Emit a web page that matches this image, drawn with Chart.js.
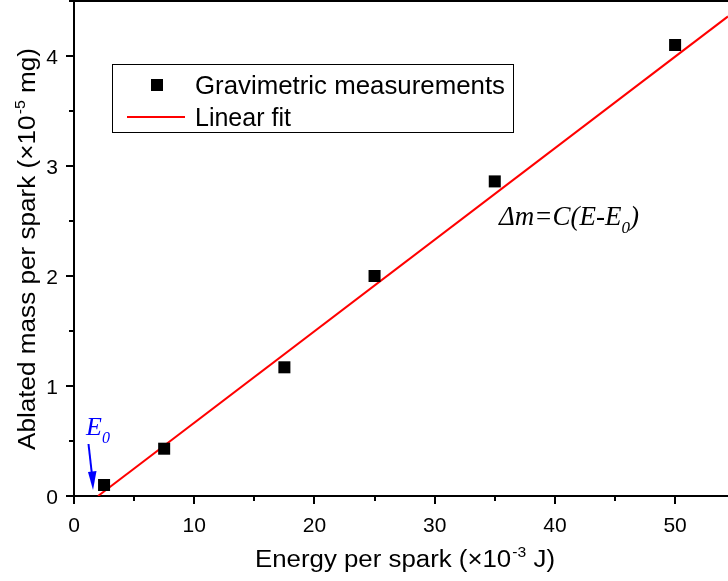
<!DOCTYPE html>
<html><head><meta charset="utf-8">
<script src="https://cdn.jsdelivr.net/npm/chart.js@4/dist/chart.umd.min.js"></script>
<style>html,body{margin:0;padding:0;background:#fff}#wrap{width:728px;height:581px;position:relative}</style>
</head><body><div id="wrap"><canvas id="c" width="728" height="581"></canvas></div>
<script>
const energy = [2.5, 7.5, 17.5, 25, 35, 50];
const mass = [0.10, 0.43, 1.17, 2.00, 2.86, 4.10];
const fitX = [2.0, 54.4];
const fitY = [0.0, 4.36];
const xTicks = [0, 10, 20, 30, 40, 50];
const yTicks = [0, 1, 2, 3, 4];
const seriesLabels = ['Gravimetric measurements', 'Linear fit'];
const xTitle = ['Energy per spark (\u00d710', '-3', ' J)'];
const yTitle = ['Ablated mass per spark (\u00d710', '-5', ' mg)'];

const FONT = '"Liberation Sans", Arial, sans-serif';
const TF = '"Liberation Serif", "Times New Roman", serif';

function drawSup(ctx, parts, cx, y, size, targetW) {
  const ss = Math.round(size * 0.6);
  ctx.font = size + 'px ' + FONT;
  const w0 = ctx.measureText(parts[0]).width;
  const w2 = ctx.measureText(parts[2]).width;
  ctx.font = ss + 'px ' + FONT;
  const w1 = ctx.measureText(parts[1]).width;
  const total = w0 + w1 + w2 + 1;
  const k = targetW / total;
  ctx.save();
  ctx.translate(cx - targetW / 2, y);
  ctx.scale(k, 1);
  ctx.textAlign = 'left'; ctx.textBaseline = 'alphabetic';
  ctx.font = size + 'px ' + FONT;
  ctx.fillText(parts[0], 0, 0);
  ctx.font = ss + 'px ' + FONT;
  ctx.fillText(parts[1], w0 + 1, -size * 0.45);
  ctx.font = size + 'px ' + FONT;
  ctx.fillText(parts[2], w0 + w1 + 1, 0);
  ctx.restore();
}

function fitText(ctx, text, x, y, targetW) {
  const w = ctx.measureText(text).width;
  ctx.save();
  ctx.translate(x, y);
  ctx.scale(targetW / w, 1);
  ctx.fillText(text, 0, 0);
  ctx.restore();
}

const deco = {
  id: 'deco',
  afterDraw(chart) {
    const ctx = chart.ctx, a = chart.chartArea;
    const xs = chart.scales.x, ys = chart.scales.y;
    ctx.save();
    ctx.strokeStyle = '#000'; ctx.lineWidth = 2;
    ctx.beginPath(); ctx.moveTo(a.left - 1, 1); ctx.lineTo(a.right, 1); ctx.stroke();
    for (let v = 0; v <= 54; v += 5) {
      const px = Math.round(xs.getPixelForValue(v));
      const len = (v % 10 === 0) ? 8 : 5;
      ctx.beginPath(); ctx.moveTo(px, a.bottom); ctx.lineTo(px, a.bottom + len); ctx.stroke();
    }
    for (let v = 0; v <= 4.5; v += 0.5) {
      const py = Math.round(ys.getPixelForValue(v));
      const len = (Math.abs(v - Math.round(v)) < 1e-6) ? 8 : 5;
      ctx.beginPath(); ctx.moveTo(a.left, py); ctx.lineTo(a.left - len, py); ctx.stroke();
    }
    ctx.fillStyle = '#000';
    ctx.font = '21px ' + FONT;
    ctx.textAlign = 'center'; ctx.textBaseline = 'alphabetic';
    xTicks.forEach(v => ctx.fillText(String(v), xs.getPixelForValue(v), 532));
    ctx.textAlign = 'right';
    yTicks.forEach(v => ctx.fillText(String(v), 58, ys.getPixelForValue(v) + 7.5));
    drawSup(ctx, xTitle, 405, 567, 23, 300);
    ctx.save();
    ctx.translate(35, 249); ctx.rotate(-Math.PI / 2);
    drawSup(ctx, yTitle, 0, 0, 23, 402);
    ctx.restore();
    // legend
    ctx.lineWidth = 1; ctx.strokeStyle = '#000';
    ctx.strokeRect(112.5, 64.5, 401, 68);
    ctx.fillStyle = '#000';
    ctx.fillRect(151, 79, 12, 12);
    ctx.strokeStyle = '#ff0000'; ctx.lineWidth = 2;
    ctx.beginPath(); ctx.moveTo(127, 117); ctx.lineTo(185, 117); ctx.stroke();
    ctx.fillStyle = '#000';
    ctx.font = '25px ' + FONT; ctx.textAlign = 'left'; ctx.textBaseline = 'alphabetic';
    fitText(ctx, seriesLabels[0], 195, 94, 310);
    ctx.font = '25px ' + FONT;
    ctx.fillText(seriesLabels[1], 195, 126);
    // equation
    ctx.font = 'italic 27px ' + TF;
    let ex = 499, ey = 225;
    const s1 = '\u0394m=C(E-E';
    ctx.fillText(s1, ex, ey);
    ex += ctx.measureText(s1).width;
    ctx.font = 'italic 17px ' + TF;
    ctx.fillText('0', ex, ey + 8);
    ex += ctx.measureText('0').width;
    ctx.font = 'italic 27px ' + TF;
    ctx.fillText(')', ex, ey);
    // E0 annotation
    ctx.fillStyle = '#0000ff';
    ctx.font = 'italic 26px ' + TF;
    ctx.fillText('E', 86, 435);
    const wE = ctx.measureText('E').width;
    ctx.font = 'italic 16px ' + TF;
    ctx.fillText('0', 86 + wE, 443);
    ctx.strokeStyle = '#0000ff'; ctx.lineWidth = 2;
    ctx.beginPath(); ctx.moveTo(88.5, 444); ctx.lineTo(92, 475); ctx.stroke();
    ctx.beginPath(); ctx.moveTo(93, 490); ctx.lineTo(88, 472); ctx.lineTo(96.5, 471); ctx.closePath();
    ctx.fillStyle = '#0000ff'; ctx.fill();
    ctx.restore();
  }
};

new Chart(document.getElementById('c'), {
  type: 'scatter',
  data: {
    datasets: [
      { label: seriesLabels[1], data: fitX.map((x, i) => ({x, y: fitY[i]})), showLine: true,
        borderColor: '#ff0000', borderWidth: 2, pointRadius: 0, order: 2 },
      { label: seriesLabels[0], data: energy.map((x, i) => ({x, y: mass[i]})),
        pointStyle: 'rect', pointRadius: 8.5, backgroundColor: '#000', borderColor: '#000', borderWidth: 0, order: 1 }
    ]
  },
  options: {
    responsive: false, animation: false, events: [],
    layout: { autoPadding: false, padding: { top: 1, right: 0, left: 0, bottom: 0 } },
    plugins: { legend: { display: false }, tooltip: { enabled: false } },
    scales: {
      x: {
        type: 'linear', min: 0, max: 54.4,
        afterFit(s) { s.height = 85; },
        border: { display: true, color: '#000', width: 2 },
        grid: { display: false, drawTicks: false },
        ticks: { display: false }
      },
      y: {
        type: 'linear', min: 0, max: 4.5,
        afterFit(s) { s.width = 74; },
        border: { display: true, color: '#000', width: 2 },
        grid: { display: false, drawTicks: false },
        ticks: { display: false }
      }
    }
  },
  plugins: [deco]
});
</script></body></html>
